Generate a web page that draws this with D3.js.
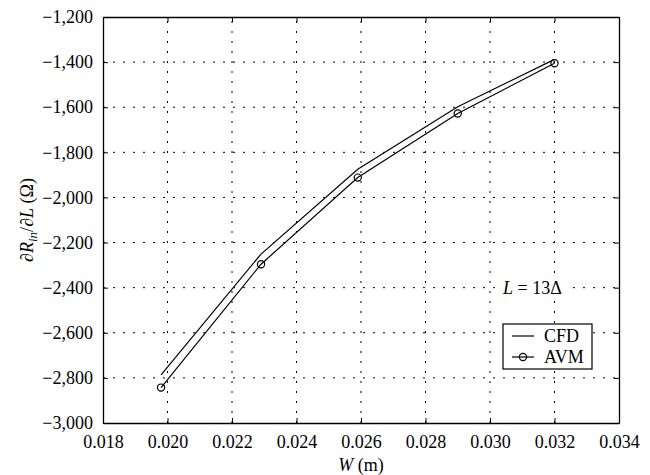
<!DOCTYPE html>
<html>
<head>
<meta charset="utf-8">
<script src="https://cdn.jsdelivr.net/npm/d3@7"></script>
<style>
  body { margin: 0; background: #fff; }
  svg { display: block; }
  text { font-family: "Liberation Serif", "Times New Roman", serif; fill: #000; }
</style>
</head>
<body>
<svg id="chart" width="650" height="475"></svg>
<script>
// ---- data ----
const xTicks = [0.018, 0.020, 0.022, 0.024, 0.026, 0.028, 0.030, 0.032, 0.034];
const yTicks = [-3000, -2800, -2600, -2400, -2200, -2000, -1800, -1600, -1400, -1200];
const avmW = [0.0198, 0.0229, 0.0259, 0.0290, 0.0320];
const avmY = [-2843, -2296, -1912, -1628, -1405];
const cfdW = [0.0198, 0.0229, 0.0259, 0.0290, 0.0320];
const cfdY = [-2787, -2251, -1875, -1598, -1388];
const seriesNames = ["CFD", "AVM"];
const annotationText = "13Δ";

// ---- layout ----
const svg = d3.select("#chart");
const L = 103, R = 619, T = 17, B = 423;
const fs = 18;

const x = d3.scaleLinear().domain([0.018, 0.034]).range([L, R]);
const y = d3.scaleLinear().domain([-3000, -1200]).range([B, T]);

// grid
const grid = svg.append("g").attr("stroke", "#000").attr("stroke-width", 1)
  .attr("stroke-dasharray", "2,8").attr("fill", "none");
xTicks.slice(1, -1).forEach(t => {
  grid.append("line").attr("x1", x(t)).attr("x2", x(t)).attr("y1", B).attr("y2", T);
});
yTicks.slice(1, -1).forEach(t => {
  grid.append("line").attr("x1", L).attr("x2", R).attr("y1", y(t)).attr("y2", y(t));
});

// axes
const fmtY = d3.format(",.0f");
const fmtX = d3.format(".3f");
const axB = svg.append("g").attr("transform", `translate(0,${B})`)
  .call(d3.axisBottom(x).tickValues(xTicks).tickFormat(fmtX).tickSizeInner(-5).tickSizeOuter(0).tickPadding(12));
const axL = svg.append("g").attr("transform", `translate(${L},0)`)
  .call(d3.axisLeft(y).tickValues(yTicks).tickFormat(fmtY).tickSizeInner(-5).tickSizeOuter(0).tickPadding(10));
const axT = svg.append("g").attr("transform", `translate(0,${T})`)
  .call(d3.axisTop(x).tickValues(xTicks).tickFormat("").tickSizeInner(-5).tickSizeOuter(0));
const axR = svg.append("g").attr("transform", `translate(${R},0)`)
  .call(d3.axisRight(y).tickValues(yTicks).tickFormat("").tickSizeInner(-5).tickSizeOuter(0));
[axB, axL, axT, axR].forEach(a => {
  a.selectAll("path").attr("stroke", "#000").attr("stroke-width", 1.3);
  a.selectAll("line").attr("stroke", "#000").attr("stroke-width", 1);
  a.selectAll("text").style("font-family", '"Liberation Serif", serif').style("font-size", fs + "px").attr("fill", "#000");
});

// lines
const line = d3.line().x(d => x(d[0])).y(d => y(d[1]));
const cfd = cfdW.map((w, i) => [w, cfdY[i]]);
const avm = avmW.map((w, i) => [w, avmY[i]]);
svg.append("path").datum(cfd).attr("d", line).attr("fill", "none").attr("stroke", "#000").attr("stroke-width", 1.2);
svg.append("path").datum(avm).attr("d", line).attr("fill", "none").attr("stroke", "#000").attr("stroke-width", 1.2);
svg.selectAll("circle.avm").data(avm).enter().append("circle").attr("class", "avm")
  .attr("cx", d => x(d[0])).attr("cy", d => y(d[1])).attr("r", 3.6)
  .attr("fill", "none").attr("stroke", "#000").attr("stroke-width", 1.2);

// annotation
const ann = svg.append("g");
ann.append("rect").attr("x", 500).attr("y", y(-2400) - 11).attr("width", 66).attr("height", 22).attr("fill", "#fff");
const at = ann.append("text").attr("x", 503).attr("y", y(-2400) + 6).style("font-size", fs + "px");
at.append("tspan").attr("font-style", "italic").text("L");
at.append("tspan").text(" = " + annotationText);

// legend
const lg = svg.append("g");
lg.append("rect").attr("x", 503).attr("y", 324).attr("width", 89).attr("height", 45)
  .attr("fill", "#fff").attr("stroke", "#000").attr("stroke-width", 1.2);
const rows = [336, 357];
seriesNames.forEach((n, i) => {
  lg.append("line").attr("x1", 512).attr("x2", 534).attr("y1", rows[i]).attr("y2", rows[i])
    .attr("stroke", "#000").attr("stroke-width", 1.2);
  if (i === 1) lg.append("circle").attr("cx", 523).attr("cy", rows[i]).attr("r", 3.6)
    .attr("fill", "none").attr("stroke", "#000").attr("stroke-width", 1.2);
  lg.append("text").attr("x", 544).attr("y", rows[i] + 6).style("font-size", fs + "px").text(n);
});

// axis labels
const xl = svg.append("text").attr("x", (L + R) / 2).attr("y", 471).attr("text-anchor", "middle").style("font-size", fs + "px");
xl.append("tspan").attr("font-style", "italic").text("W");
xl.append("tspan").text(" (m)");

const yl = svg.append("text").attr("transform", `translate(33,${(T + B) / 2}) rotate(-90)`)
  .attr("text-anchor", "middle").style("font-size", fs + "px");
yl.append("tspan").text("∂");
yl.append("tspan").attr("font-style", "italic").text("R");
yl.append("tspan").attr("font-style", "italic").attr("font-size", "13px").attr("dy", 4).text("in");
yl.append("tspan").attr("dy", -4).text("/∂");
yl.append("tspan").attr("font-style", "italic").text("L");
yl.append("tspan").text(" (Ω)");
</script>
</body>
</html>
